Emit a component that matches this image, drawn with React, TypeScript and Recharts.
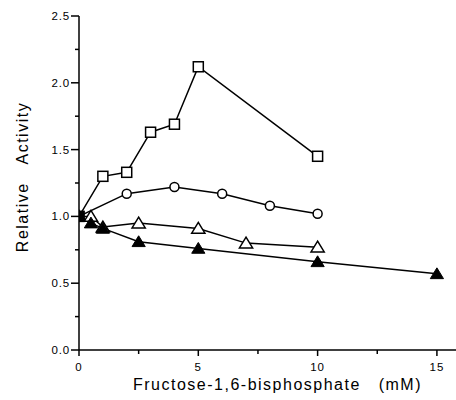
import React from 'react';
import { LineChart, Line, XAxis, YAxis, Label } from 'recharts';

const squareX = [0, 1, 2, 3, 4, 5, 10];
const squareY = [1.0, 1.3, 1.33, 1.63, 1.69, 2.12, 1.45];

const circleX = [0, 2, 4, 6, 8, 10];
const circleY = [1.0, 1.17, 1.22, 1.17, 1.08, 1.02];

const openTriX = [0, 0.5, 1, 2.5, 5, 7, 10];
const openTriY = [1.0, 1.0, 0.92, 0.95, 0.91, 0.8, 0.77];

const filledTriX = [0, 0.5, 1, 2.5, 5, 10, 15];
const filledTriY = [1.0, 0.95, 0.91, 0.81, 0.76, 0.66, 0.57];

const xTicks = [0, 2.5, 5, 7.5, 10, 12.5, 15];
const yTicks = [0, 0.25, 0.5, 0.75, 1, 1.25, 1.5, 1.75, 2, 2.25, 2.5];

const xTitle = 'Fructose-1,6-bisphosphate\u00a0\u00a0\u00a0(mM)';
const yTitle = 'Relative\u00a0\u00a0\u00a0Activity';

const toPoints = (xs: number[], ys: number[]) => xs.map((x, i) => ({ x, y: ys[i] }));

const FONT = '"Liberation Sans", Arial, sans-serif';

const SquareDot = (props: any) => {
  const { cx, cy, index } = props;
  return <rect key={index} x={cx - 5} y={cy - 5} width={10} height={10} fill="#fff" stroke="#000" strokeWidth={1.5} />;
};

const CircleDot = (props: any) => {
  const { cx, cy, index } = props;
  return <circle key={index} cx={cx} cy={cy} r={4.5} fill="#fff" stroke="#000" strokeWidth={1.5} />;
};

const triPath = (cx: number, cy: number, s: number) =>
  `M${cx},${cy - s} L${cx + s * 1.1},${cy + s * 0.8} L${cx - s * 1.1},${cy + s * 0.8} Z`;

const OpenTriDot = (props: any) => {
  const { cx, cy, index } = props;
  return <path key={index} d={triPath(cx, cy, 6)} fill="#fff" stroke="#000" strokeWidth={1.5} />;
};

// the shared starting point at 0 mM prints as a solid block in the original
const FilledTriDot = (props: any) => {
  const { cx, cy, index } = props;
  if (index === 0) {
    return <rect key={index} x={cx - 5.5} y={cy - 5.5} width={11} height={11} fill="#000" />;
  }
  return <path key={index} d={triPath(cx, cy, 6)} fill="#000" stroke="#000" strokeWidth={1} />;
};

const YTick = (props: any) => {
  const { x, y, payload } = props;
  const v = payload.value;
  const major = Math.abs(v * 2 - Math.round(v * 2)) < 1e-6;
  return (
    <g>
      <line x1={x - (major ? 8 : 4)} y1={y} x2={x} y2={y} stroke="#000" strokeWidth={1.5} />
      {major && (
        <text x={x - 9} y={y} textAnchor="end" dominantBaseline="central" fontSize={11.5} fontFamily={FONT} fill="#000" letterSpacing={0.8}>
          {v.toFixed(1)}
        </text>
      )}
    </g>
  );
};

const XTick = (props: any) => {
  const { x, y, payload } = props;
  const v = payload.value;
  const major = Number.isInteger(v);
  return (
    <g>
      <line x1={x} y1={y} x2={x} y2={y + (major ? 6 : 4)} stroke="#000" strokeWidth={1.5} />
      {major && (
        <text x={x} y={y + 17} textAnchor="middle" dominantBaseline="central" fontSize={11.5} fontFamily={FONT} fill="#000" letterSpacing={1}>
          {v}
        </text>
      )}
    </g>
  );
};

export default function App() {
  return (
    <div style={{ position: 'absolute', left: 0, top: 0, background: '#fff' }}>
      <LineChart width={456} height={400} margin={{ top: 16, right: 0, bottom: 0, left: 0 }}>
        <XAxis
          type="number"
          dataKey="x"
          domain={[0, 15.8]}
          ticks={xTicks}
          tick={<XTick />}
          tickLine={false}
          tickSize={0}
          tickMargin={0}
          axisLine={{ stroke: '#000', strokeWidth: 1.5 }}
          height={50}
          allowDataOverflow
        >
          <Label
            value={xTitle}
            position="insideBottom"
            offset={10}
            dx={10}
            style={{ fontSize: 16, fontFamily: FONT, fill: '#000', letterSpacing: 1.5 }}
          />
        </XAxis>
        <XAxis
          xAxisId="top"
          orientation="top"
          type="number"
          domain={[0, 15.8]}
          tick={false}
          tickLine={false}
          axisLine={{ stroke: '#000', strokeWidth: 1.5 }}
          height={0}
        />
        <YAxis
          type="number"
          domain={[0, 2.5]}
          ticks={yTicks}
          tick={<YTick />}
          tickLine={false}
          tickSize={0}
          tickMargin={0}
          axisLine={{ stroke: '#000', strokeWidth: 1.5 }}
          width={79}
        >
          <Label
            value={yTitle}
            angle={-90}
            position="insideLeft"
            offset={22}
            dy={-6}
            style={{ fontSize: 16, fontFamily: FONT, fill: '#000', letterSpacing: 1.5, textAnchor: 'middle' }}
          />
        </YAxis>
        <Line data={toPoints(squareX, squareY)} dataKey="y" stroke="#000" strokeWidth={1.5} dot={<SquareDot />} isAnimationActive={false} />
        <Line data={toPoints(circleX, circleY)} dataKey="y" stroke="#000" strokeWidth={1.5} dot={<CircleDot />} isAnimationActive={false} />
        <Line data={toPoints(openTriX, openTriY)} dataKey="y" stroke="#000" strokeWidth={1.5} dot={<OpenTriDot />} isAnimationActive={false} />
        <Line data={toPoints(filledTriX, filledTriY)} dataKey="y" stroke="#000" strokeWidth={1.5} dot={<FilledTriDot />} isAnimationActive={false} />
      </LineChart>
    </div>
  );
}
